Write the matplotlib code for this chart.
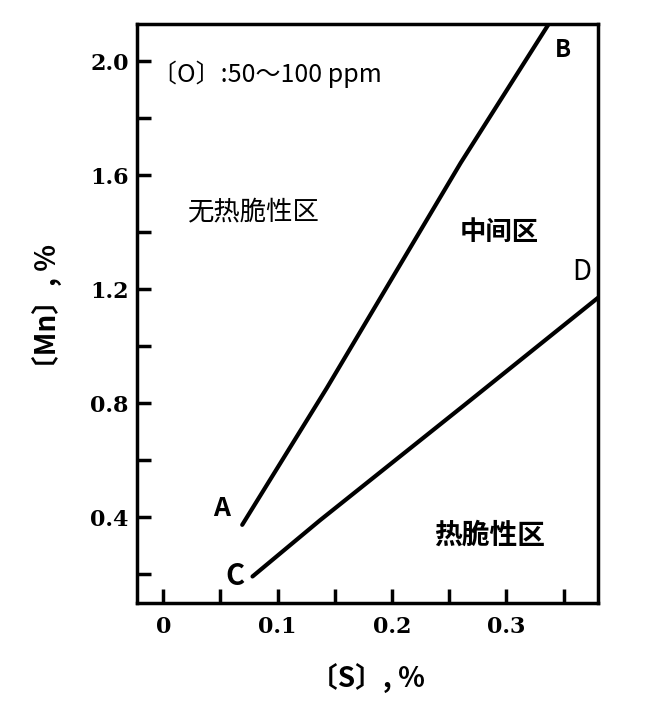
import matplotlib.pyplot as plt
import numpy as np

plt.rcParams['font.family'] = ['Noto Sans CJK SC', 'DejaVu Sans']

# boundary lines
ab_s = [0.069, 0.143, 0.26, 0.337]
ab_mn = [0.374, 0.854, 1.643, 2.13]
cd_s = [0.078, 0.137, 0.262, 0.38]
cd_mn = [0.193, 0.39, 0.79, 1.17]

yticks = [0.4, 0.8, 1.2, 1.6, 2.0]
ytick_labels = ['0.4', '0.8', '1.2', '1.6', '2.0']
xticks = [0, 0.1, 0.2, 0.3]
xtick_labels = ['0', '0.1', '0.2', '0.3']

fig = plt.figure(figsize=(6.45, 7.1), dpi=100)
ax = fig.add_axes([0.2124, 0.1507, 0.7146, 0.8155])

ax.plot(ab_s, ab_mn, color='black', lw=3, solid_capstyle='round')
ax.plot(cd_s, cd_mn, color='black', lw=3, solid_capstyle='round')

ax.set_xlim(-0.023, 0.38)
ax.set_ylim(0.1, 2.13)

ax.set_yticks(yticks)
ax.set_yticklabels(ytick_labels)
ax.set_yticks([0.2, 0.6, 1.0, 1.4, 1.8], minor=True)
ax.set_xticks(xticks)
ax.set_xticklabels(xtick_labels)
ax.set_xticks([0.05, 0.15, 0.25, 0.35], minor=True)

ax.tick_params(which='both', direction='in', width=2.5, length=10, labelsize=16)
ax.tick_params(axis='x', pad=9)
ax.tick_params(axis='y', pad=6)
for lab in ax.get_xticklabels() + ax.get_yticklabels():
    lab.set_fontweight('bold')
    lab.set_family('DejaVu Serif')
for sp in ax.spines.values():
    sp.set_linewidth(2.5)

ax.set_ylabel('〔Mn〕, %', fontsize=20, fontweight='bold', labelpad=20)
ax.set_xlabel('〔S〕, %', fontsize=20, fontweight='bold', labelpad=18)

ax.text(-0.01, 1.955, '〔O〕:50～100 ppm', fontsize=18, va='center', ha='left')
ax.text(0.022, 1.47, '无热脆性区', fontsize=19, va='center', ha='left')
ax.text(0.259, 1.40, '中间区', fontsize=19, fontweight='bold', va='center', ha='left')
ax.text(0.237, 0.335, '热脆性区', fontsize=20, fontweight='bold', va='center', ha='left')

ax.text(0.051, 0.433, 'A', fontsize=19, fontweight='bold', ha='center', va='center')
ax.text(0.349, 2.04, 'B', fontsize=17, fontweight='bold', ha='center', va='center')
ax.text(0.063, 0.193, 'C', fontsize=21, fontweight='bold', ha='center', va='center')
ax.text(0.366, 1.26, 'D', fontsize=20, ha='center', va='center')

fig.savefig('out.png', dpi=100)
